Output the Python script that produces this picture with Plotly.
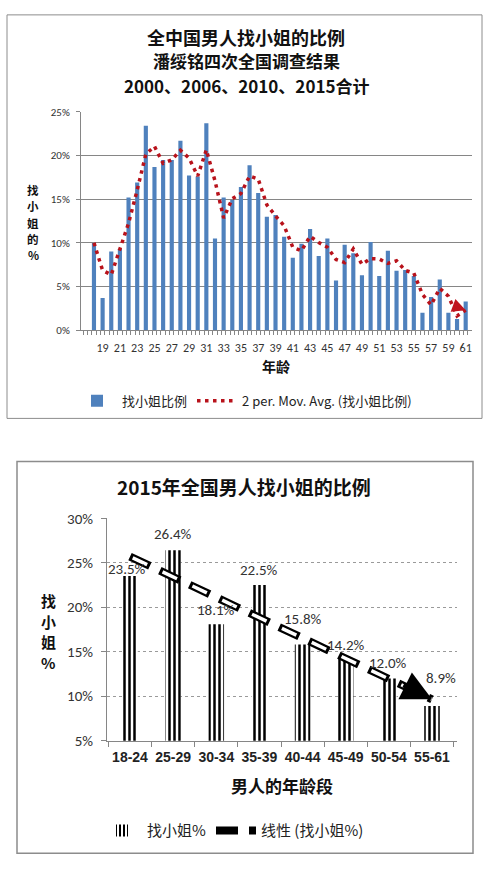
import numpy as np
import pandas as pd
import plotly.graph_objects as go

W, H = 492, 875

# chart 1: share by single year of age (%)
ages = list(range(18, 62))
rate_by_age = [10.0, 3.7, 9.0, 9.3, 15.2, 16.9, 23.4, 18.7, 19.5, 19.5,
               21.7, 17.7, 17.6, 23.7, 10.5, 15.2, 14.9, 16.4, 18.9, 15.7,
               13.0, 13.2, 10.7, 8.3, 9.9, 11.6, 8.5, 10.5, 5.7, 9.8,
               8.8, 6.3, 10.1, 6.2, 9.1, 6.8, 6.9, 6.2, 2.0, 3.8,
               5.8, 2.0, 1.3, 3.3]
age_ticks = list(range(19, 62, 2))

# chart 2: 2015 by age group (%)
age_groups = ["18-24", "25-29", "30-34", "35-39", "40-44", "45-49", "50-54", "55-61"]
rate_2015 = [23.5, 26.4, 18.1, 22.5, 15.8, 14.2, 12.0, 8.9]

# data labels were nudged by hand in the original (pixels above / right of bar top)
label_dy = [7, 16, 14, 15, 26, 14, 15, 28]
label_dx = [-3, 0, 0, 0, 0, 0, -1, 9]

# trendlines as in the original (2-period moving average, linear fit)
mov_avg = pd.Series(rate_by_age).rolling(2, min_periods=1).mean()
idx = np.arange(len(rate_2015))
slope, icpt = np.polyfit(idx, rate_2015, 1)
trend = slope * idx + icpt


def px(x):
    return x / W


def py(y):
    return 1 - y / H


FONT = "Calibri, Carlito, Liberation Sans, Noto Sans CJK SC"
CJK = "Noto Sans CJK SC"
GRID = "#868686"

fig = go.Figure()

fig.add_trace(go.Bar(x=ages, y=rate_by_age, width=0.48, name="找小姐比例",
                     marker=dict(color="#4F81BD", line_width=0),
                     xaxis="x", yaxis="y", legend="legend"))
fig.add_trace(go.Scatter(x=ages, y=mov_avg, mode="lines",
                         name="2 per. Mov. Avg. (找小姐比例)",
                         line=dict(color="#B8121B", width=3.5, dash="3.5px,4.5px"),
                         xaxis="x", yaxis="y", legend="legend"))

fig.add_trace(go.Bar(x=age_groups, y=rate_2015, width=0.36, name="找小姐%",
                     marker=dict(color="white", line_width=0,
                                 pattern=dict(shape="|", fgcolor="black", bgcolor="white",
                                              size=5, solidity=0.5, fillmode="replace")),
                     xaxis="x2", yaxis="y2", legend="legend2"))
fig.add_trace(go.Scatter(x=age_groups, y=trend, mode="lines", name="线性 (找小姐%)",
                         line=dict(color="black", width=8, dash="22px,11px"),
                         xaxis="x2", yaxis="y2", legend="legend2"))
fig.add_trace(go.Scatter(x=age_groups, y=trend, mode="lines", showlegend=False,
                         line=dict(color="white", width=3.5, dash="0px,3px,16px,14px"),
                         hoverinfo="skip", xaxis="x2", yaxis="y2"))

annots = [
    dict(text="<b>全中国男人找小姐的比例</b>", x=px(246), y=py(29), font=dict(size=18)),
    dict(text="<b>潘绥铭四次全国调查结果</b>", x=px(246), y=py(53), font=dict(size=17)),
    dict(text="<b>2000、2006、2010、2015合计</b>", x=px(246), y=py(78), font=dict(size=17)),
    dict(text="<b>年龄</b>", x=px(276), y=py(365), font=dict(size=14)),
    dict(text="<b>2015年全国男人找小姐的比例</b>", x=px(244), y=py(488), font=dict(size=19)),
    dict(text="<b>男人的年龄段</b>", x=px(282), y=py(793), font=dict(size=17)),
]
# vertical (stacked) axis titles, one character per line
for i, ch in enumerate("找小姐的%"):
    annots.append(dict(text="<b>%s</b>" % ch, x=px(33), y=py(185 + i * 16.5),
                       font=dict(size=11.5)))
for i, ch in enumerate("找小姐%"):
    annots.append(dict(text="<b>%s</b>" % ch, x=px(48), y=py(604 + i * 21), font=dict(size=15)))

for a in annots:
    a.update(xref="paper", yref="paper", showarrow=False, xanchor="center",
             yanchor="middle", borderpad=0)
    a["font"].update(family=CJK, color="#111")

# value labels of the 2015 bars
for g, v, dy, dx in zip(age_groups, rate_2015, label_dy, label_dx):
    annots.append(dict(x=g, y=v, xref="x2", yref="y2", text="%.1f%%" % v,
                       showarrow=False, xanchor="center", yanchor="middle",
                       yshift=dy, xshift=dx, borderpad=0,
                       font=dict(size=15, color="#333", family=FONT)))

# arrow heads at the ends of the trendlines
annots.append(dict(x=ages[-1], y=mov_avg.iloc[-1], xref="x", yref="y", text="",
                   showarrow=True, ax=-8, ay=-3, arrowhead=2, arrowsize=0.9,
                   arrowwidth=3, arrowcolor="#C0141E"))
annots.append(dict(x=age_groups[-1], y=trend[-1], xref="x2", yref="y2", text="",
                   showarrow=True, ax=-30, ay=-15, arrowhead=2, arrowsize=1.2,
                   arrowwidth=5, arrowcolor="black"))

fig.update_layout(
    width=W, height=H, autosize=False,
    margin=dict(l=0, r=0, t=0, b=0),
    paper_bgcolor="white", plot_bgcolor="white",
    font=dict(family=FONT, color="#333"),
    annotations=annots,
    shapes=[
        dict(type="rect", xref="paper", yref="paper", x0=px(7), x1=px(482),
             y0=py(418), y1=py(6), line=dict(color="#8c8c8c", width=1)),
        dict(type="rect", xref="paper", yref="paper", x0=px(17), x1=px(473),
             y0=py(862), y1=py(462), line=dict(color="#8c8c8c", width=1.5)),
    ],
    xaxis=dict(domain=[px(81), px(472)], anchor="y", range=[16.5, 61.73],
               tickvals=age_ticks, ticks="", showline=True, linecolor=GRID,
               tickfont=dict(size=12, color="#333"), ticklabelstandoff=6,
               showgrid=False, zeroline=False,
               minor=dict(ticks="outside", ticklen=4, tick0=18.25, dtick=0.5,
                          tickcolor=GRID, showgrid=False)),
    yaxis=dict(domain=[py(328), py(105)], anchor="x", range=[0, 25], dtick=5,
               ticksuffix="%", showgrid=True, gridcolor=GRID, zeroline=False,
               showline=True, linecolor=GRID, ticks="outside", ticklen=4,
               tickcolor=GRID, tickfont=dict(size=11, color="#333"),
               ticklabelstandoff=4),
    xaxis2=dict(domain=[px(107), px(457)], anchor="y2", type="category",
                tickson="boundaries", ticks="outside", ticklen=5, tickcolor=GRID,
                showline=True, linecolor=GRID, showgrid=False, tickangle=0,
                tickfont=dict(size=14, color="#222", family="Liberation Sans",
                              weight="bold"),
                ticklabelstandoff=4),
    yaxis2=dict(domain=[py(747), py(520)], anchor="x2", range=[5, 30], dtick=5,
                ticksuffix="%", showgrid=True, gridcolor="#9a9a9a", griddash="dot",
                zeroline=False, showline=True, linecolor=GRID, ticks="outside",
                ticklen=5, tickcolor=GRID, tickfont=dict(size=15, color="#333"),
                ticklabelstandoff=5),
    legend=dict(orientation="h", x=px(72), y=py(400), xanchor="left", yanchor="middle",
                font=dict(size=13, family=CJK, color="#222"), itemwidth=40,
                bgcolor="rgba(0,0,0,0)"),
    legend2=dict(orientation="h", x=px(97), y=py(839), xanchor="left", yanchor="middle",
                 font=dict(size=15, family=CJK, color="#222"), itemwidth=40,
                 bgcolor="rgba(0,0,0,0)"),
)

# the page body has a default 8px margin; drop it so the figure fills the window
fig.write_html("out.html", config={"displayModeBar": False},
               post_script="document.body.style.margin='0';"
                           "document.body.style.overflow='hidden';")
